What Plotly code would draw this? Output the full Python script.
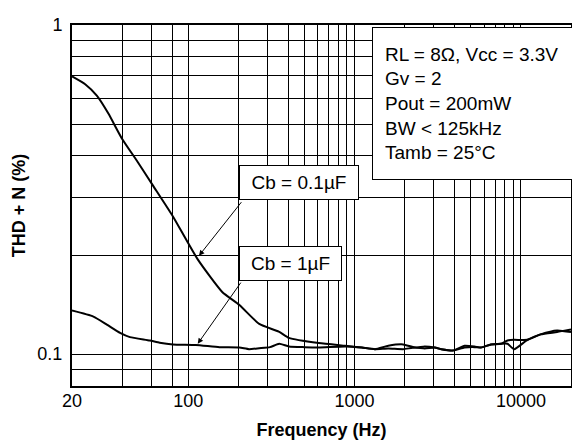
import math
import plotly.graph_objects as go

# curve data
freq_01 = [20, 24, 28.2, 33.1, 39.8, 50, 61.4, 80.9, 114, 160, 203, 267, 350, 403, 609, 879,
           1105, 1327, 1594, 1959, 2301, 2640, 3030, 3320, 3900, 4580, 5255, 5750, 6600,
           7570, 8300, 9100, 10940, 13130, 16500, 20000]
thd_01 = [0.698, 0.661, 0.610, 0.538, 0.453, 0.3815, 0.325, 0.262, 0.194, 0.1545, 0.141, 0.1235,
          0.117, 0.112, 0.108, 0.106, 0.1047, 0.1035, 0.104, 0.1035, 0.1047, 0.104, 0.1047,
          0.1035, 0.1025, 0.1047, 0.105, 0.1047, 0.107, 0.1075, 0.110, 0.1105, 0.1105, 0.1148,
          0.1167, 0.1187]

freq_1 = [20, 26.9, 32.4, 38.9, 44.6, 58.7, 67.3, 80.9, 111, 154, 203, 232, 267, 310, 352, 403,
          500, 609, 879, 1105, 1327, 1594, 1959, 2301, 2640, 3030, 3320, 3900, 4580, 5255,
          5750, 6600, 7570, 8300, 9100, 10940, 13130, 16500, 20000]
thd_1 = [0.1356, 0.130, 0.1229, 0.116, 0.1126, 0.110, 0.1083, 0.107, 0.1066, 0.105, 0.1047,
         0.1035, 0.1042, 0.105, 0.1075, 0.1055, 0.105, 0.1048, 0.1055, 0.1047, 0.1035, 0.106,
         0.107, 0.1047, 0.1055, 0.1047, 0.1035, 0.1025, 0.106, 0.1055, 0.1047, 0.107, 0.1075,
         0.1075, 0.1035, 0.1105, 0.1148, 0.118, 0.1167]

x_ticks = [20, 100, 1000, 10000]
x_minor = [40, 60, 80, 200, 300, 400, 500, 600, 700, 800, 900,
           2000, 3000, 4000, 5000, 6000, 7000, 8000, 9000]
y_ticks = [0.1, 1]
y_minor = [0.09, 0.2, 0.3, 0.4, 0.5, 0.6, 0.7, 0.8, 0.9]

info_text = ["RL = 8Ω, Vcc = 3.3V", "Gv = 2", "Pout = 200mW", "BW < 125kHz", "Tamb = 25°C"]

FONT = "Liberation Sans, Arial, sans-serif"

fig = go.Figure()
fig.add_trace(go.Scatter(x=freq_01, y=thd_01, mode="lines", name="Cb = 0.1µF",
                         line=dict(color="black", width=2, shape="spline", smoothing=0.5)))
fig.add_trace(go.Scatter(x=freq_1, y=thd_1, mode="lines", name="Cb = 1µF",
                         line=dict(color="black", width=2, shape="spline", smoothing=0.5)))

# labels with arrows
labels = [
    ("Cb = 0.1µF", 465, 0.332, 118, 116, 0.199, 212, 0.2925),
    ("Cb = 1µF", 410, 0.1888, 101, 114, 0.1075, 210, 0.1666),
]
for txt, bx, by, w, hx, hy, tx, ty in labels:
    fig.add_annotation(x=math.log10(bx), y=math.log10(by), xref="x", yref="y", text=txt,
                       showarrow=False, font=dict(family=FONT, size=19, color="black"),
                       bgcolor="white", bordercolor="black", borderwidth=1, borderpad=0,
                       width=w, height=33)
    fig.add_annotation(x=math.log10(hx), y=math.log10(hy), xref="x", yref="y",
                       ax=math.log10(tx), ay=math.log10(ty), axref="x", ayref="y",
                       text="", showarrow=True, arrowhead=2, arrowsize=1.1,
                       arrowwidth=1, arrowcolor="black")

fig.add_annotation(x=0.601, y=0.995, xref="paper", yref="paper", xanchor="left", yanchor="top",
                   text="<br>".join(info_text), showarrow=False, align="left",
                   font=dict(family=FONT, size=19, color="black"),
                   bgcolor="white", bordercolor="black", borderwidth=1, borderpad=12,
                   width=180, height=127)

fig.update_xaxes(type="log", range=[math.log10(20), math.log10(20000)],
                 tickvals=x_ticks, ticktext=[str(v) for v in x_ticks],
                 showgrid=True, gridcolor="black", gridwidth=1,
                 minor=dict(tickvals=x_minor, showgrid=True, gridcolor="black", gridwidth=1),
                 showline=True, linecolor="black", linewidth=2, mirror=True,
                 ticks="", ticklabelstandoff=-3,
                 tickfont=dict(family=FONT, size=18, color="black"),
                 title=dict(text="<b>Frequency (Hz)</b>", standoff=14,
                            font=dict(family=FONT, size=18, color="black")),
                 zeroline=False)
fig.update_yaxes(type="log", range=[math.log10(0.08), 0],
                 tickvals=y_ticks, ticktext=["0.1", "1"],
                 showgrid=True, gridcolor="black", gridwidth=1,
                 minor=dict(tickvals=y_minor, showgrid=True, gridcolor="black", gridwidth=1),
                 showline=True, linecolor="black", linewidth=2, mirror=True,
                 ticks="", ticklabelstandoff=4,
                 tickfont=dict(family=FONT, size=18, color="black"),
                 title=dict(text="<b>THD + N (%)</b>", standoff=7,
                            font=dict(family=FONT, size=18, color="black")),
                 zeroline=False)

# the page puts the figure 8px in from the top-left corner
fig.update_layout(width=572, height=439, margin=dict(l=64, r=7, t=10, b=61),
                  paper_bgcolor="white", plot_bgcolor="white", showlegend=False)

fig.write_html("out.html")
